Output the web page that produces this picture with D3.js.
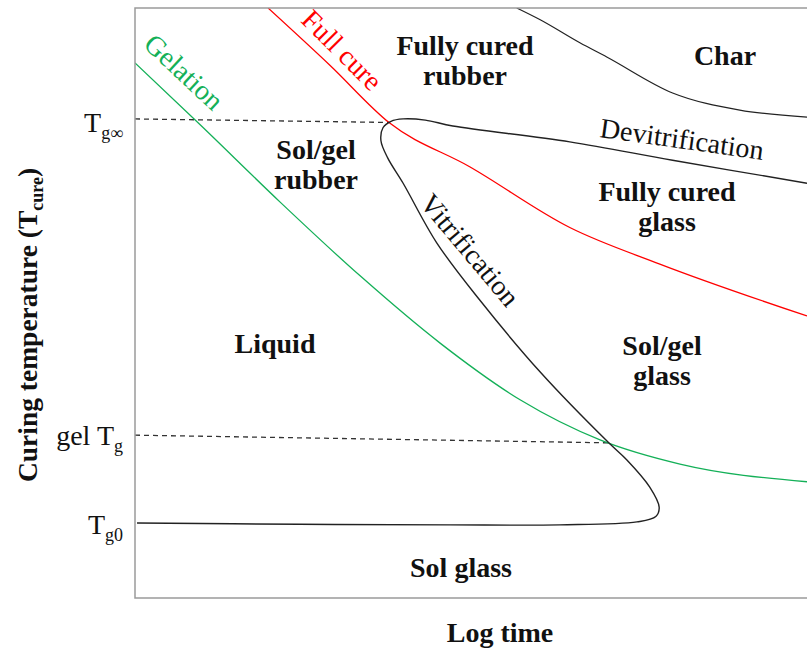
<!DOCTYPE html>
<html><head><meta charset="utf-8">
<script src="https://cdn.jsdelivr.net/npm/d3@7"></script>
<style>
body{margin:0;background:#fff}
svg{display:block}
text{font-family:"Liberation Serif","Times New Roman",serif;fill:#111}
</style>
</head><body>
<svg id="chart" width="807" height="651"></svg>
<script>
// ---------- data (log time: arbitrary 0..10, temperature: arbitrary 0..100) ----------
const timeDomain = [0, 10];
const tempDomain = [0, 100];

const gelationTime = [0, 0.97, 2.16, 3.35, 4.54, 5.73, 6.92, 8.11, 10];
const gelationTemp = [90.7, 80.2, 67.1, 54.6, 43.2, 33.6, 26.8, 22.7, 19.7];

const fullCureTime = [1.98, 2.90, 3.79, 4.98, 6.47, 7.81, 10];
const fullCureTemp = [100, 90.3, 80.5, 73.1, 62.8, 56.6, 47.8];

const vitrTime = [0.03, 2.45, 4.69, 6.32, 7.47, 7.75, 7.80, 7.66, 7.32, 7.05, 6.03, 5.13, 4.49, 3.99, 3.76, 3.66, 3.69, 3.81, 3.99, 4.32, 4.73, 6.47, 8.0, 10];
const vitrTemp = [12.7, 12.5, 12.4, 12.4, 12.9, 13.8, 15.4, 18.8, 23.4, 26.3, 38.3, 50.5, 60.2, 70.3, 74.6, 77.5, 79.7, 80.8, 81.2, 81.0, 80.0, 77.3, 74.2, 70.3];

const charTime = [5.68, 6.03, 6.62, 7.02, 8.0, 9.0, 10];
const charTemp = [100, 98.0, 94.1, 91.7, 85.6, 82.7, 81.5];

// dashed guide lines (from axis to the intersection point)
const tgInfLineTime = [0, 3.79];
const tgInfLineTemp = [81.2, 80.6];
const gelTgLineTime = [0, 7.05];
const gelTgLineTemp = [27.6, 26.3];

// y tick labels
const tickValues = [81.0, 27.8, 12.8];
const tickMain = ["T", "gel T", "T"];
const tickSub = ["g\u221E", "g", "g0"];

// ---------- layout ----------
const svg = d3.select("#chart");
const mLeft = 135, mTop = 8, mBottom = 598, mRight = 807;
const x = d3.scaleLinear().domain(timeDomain).range([mLeft, mRight]);
const y = d3.scaleLinear().domain(tempDomain).range([mBottom, mTop]);

svg.append("defs").append("clipPath").attr("id", "clip")
  .append("rect").attr("x", mLeft).attr("y", mTop).attr("width", mRight - mLeft + 5).attr("height", mBottom - mTop);

const plot = svg.append("g").attr("clip-path", "url(#clip)");
const smooth = d3.line().x(d => x(d[0])).y(d => y(d[1])).curve(d3.curveMonotoneX);
const loop = d3.line().x(d => x(d[0])).y(d => y(d[1])).curve(d3.curveCatmullRom.alpha(0.5));
const straight = d3.line().x(d => x(d[0])).y(d => y(d[1]));

plot.append("path").datum(d3.zip(tgInfLineTime, tgInfLineTemp)).attr("d", straight)
  .attr("fill", "none").attr("stroke", "#333").attr("stroke-width", 1.3).attr("stroke-dasharray", "5,4");
plot.append("path").datum(d3.zip(gelTgLineTime, gelTgLineTemp)).attr("d", straight)
  .attr("fill", "none").attr("stroke", "#333").attr("stroke-width", 1.3).attr("stroke-dasharray", "5,4");

plot.append("path").datum(d3.zip(gelationTime, gelationTemp)).attr("d", smooth)
  .attr("fill", "none").attr("stroke", "#14b058").attr("stroke-width", 1.3);
plot.append("path").datum(d3.zip(fullCureTime, fullCureTemp)).attr("d", smooth)
  .attr("fill", "none").attr("stroke", "#ff0000").attr("stroke-width", 1.3);
plot.append("path").datum(d3.zip(vitrTime, vitrTemp)).attr("d", loop)
  .attr("fill", "none").attr("stroke", "#222").attr("stroke-width", 1.4);
plot.append("path").datum(d3.zip(charTime, charTemp)).attr("d", smooth)
  .attr("fill", "none").attr("stroke", "#222").attr("stroke-width", 1.2);

// frame
svg.append("rect").attr("x", mLeft).attr("y", mTop).attr("width", mRight - mLeft + 10).attr("height", mBottom - mTop)
  .attr("fill", "none").attr("stroke", "#9a9a9a").attr("stroke-width", 1.5);

// y axis with custom tick labels
const yAxis = d3.axisLeft(y).tickValues(tickValues).tickSize(0).tickFormat("");
const ag = svg.append("g").attr("transform", `translate(${mLeft},0)`).call(yAxis);
ag.select(".domain").remove();
ag.selectAll(".tick text").each(function(d, i) {
  const t = d3.select(this).attr("x", -12).attr("dy", "11px")
    .attr("text-anchor", "end").style("font-size", "28px")
    .style("font-family", "'Liberation Serif','Times New Roman',serif").attr("fill", "#111");
  t.text(null);
  t.append("tspan").text(tickMain[i]);
  t.append("tspan").text(tickSub[i]).style("font-size", "18px").attr("dy", "7px");
});

// axis titles
svg.append("text").attr("x", 500).attr("y", 642).attr("text-anchor", "middle")
  .style("font-size", "28px").style("font-weight", "bold").text("Log time");
const yt = svg.append("text").attr("transform", "translate(37,325) rotate(-90)")
  .attr("text-anchor", "middle").style("font-size", "27.5px").style("font-weight", "bold");
yt.append("tspan").text("Curing temperature (T");
yt.append("tspan").text("cure").style("font-size", "18px").attr("dy", "6px");
yt.append("tspan").text(")").attr("dy", "-6px");

// region labels (bold)
const regions = [
  {lines: ["Fully cured", "rubber"], cx: 465, by: 55},
  {lines: ["Char"], cx: 725, by: 65},
  {lines: ["Sol/gel", "rubber"], cx: 316, by: 159},
  {lines: ["Fully cured", "glass"], cx: 667, by: 201},
  {lines: ["Liquid"], cx: 275, by: 353},
  {lines: ["Sol/gel", "glass"], cx: 662, by: 355},
  {lines: ["Sol glass"], cx: 461, by: 577}
];
regions.forEach(r => {
  const t = svg.append("text").attr("text-anchor", "middle")
    .style("font-size", "28px").style("font-weight", "bold");
  r.lines.forEach((l, k) => t.append("tspan").attr("x", r.cx).attr("y", r.by + k * 30).text(l));
});

// curve labels (rotated)
const curveLabels = [
  {text: "Gelation", cx: 184, cy: 72, a: 43, color: "#14b058"},
  {text: "Full cure", cx: 342, cy: 50, a: 45, color: "#ff0000"},
  {text: "Vitrification", cx: 470, cy: 250, a: 50, color: "#111"},
  {text: "Devitrification", cx: 682, cy: 139, a: 8, color: "#111"}
];
curveLabels.forEach(c => {
  svg.append("text").attr("transform", `translate(${c.cx},${c.cy}) rotate(${c.a})`)
    .attr("text-anchor", "middle").attr("dominant-baseline", "central")
    .style("font-size", "28px").style("fill", c.color).text(c.text);
});
</script>
</body></html>
